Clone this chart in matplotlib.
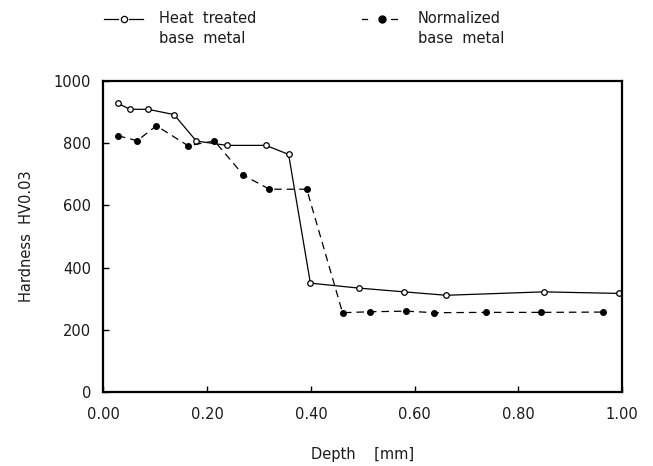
import matplotlib

matplotlib.use("Agg")
import matplotlib.pyplot as plt  # noqa: E402
from matplotlib.lines import Line2D  # noqa: E402

# ---- data ------------------------------------------------------------------
depth_heat = [0.028, 0.051, 0.086, 0.136, 0.179, 0.238, 0.313, 0.357,
              0.399, 0.493, 0.580, 0.661, 0.849, 0.994]
hard_heat = [928, 909, 909, 892, 807, 793, 793, 764,
             350, 334, 322, 311, 322, 317]

depth_norm = [0.028, 0.065, 0.102, 0.163, 0.214, 0.270, 0.320, 0.392,
              0.461, 0.514, 0.583, 0.638, 0.737, 0.843, 0.963]
hard_norm = [824, 808, 856, 792, 807, 697, 652, 652,
             255, 258, 260, 255, 256, 256, 257]

x_ticks = [0.0, 0.2, 0.4, 0.6, 0.8, 1.0]
x_labels = ["0.00", "0.20", "0.40", "0.60", "0.80", "1.00"]
y_ticks = [0, 200, 400, 600, 800, 1000]

plt.rcParams["font.family"] = ["DejaVu Sans"]
FS = 10.5
TXT = "#1a1a1a"
W, H = 653, 466

fig = plt.figure(figsize=(W / 100, H / 100), dpi=100)
ax = fig.add_axes([103.5 / W, 1 - 392 / H, (622 - 103.5) / W, (392 - 81) / H])

ax.plot(depth_heat, hard_heat, "-", color="black", lw=0.9,
        marker="o", ms=4, mfc="white", mec="black", mew=0.9)
ax.plot(depth_norm, hard_norm, color="black", lw=0.9, dashes=(6, 4),
        marker="o", ms=4, mfc="black", mec="black")

ax.set_xlim(0, 1.0)
ax.set_ylim(0, 1000)
ax.set_xticks(x_ticks)
ax.set_xticklabels(x_labels)
ax.set_yticks(y_ticks)
ax.tick_params(direction="in", length=4, width=1, labelsize=FS,
               colors="black", labelcolor=TXT)
ax.tick_params(axis="x", pad=11)
ax.tick_params(axis="y", pad=9)
for s in ax.spines.values():
    s.set_linewidth(1.6)

ax.set_xlabel("Depth    [mm]", fontsize=FS, labelpad=18, color=TXT)
ax.set_ylabel("Hardness  HV0.03", fontsize=FS, labelpad=14, color=TXT)


# ---- legend drawn at the top of the figure ---------------------------------
def fx(px):
    return px / W


def fy(py):
    return 1 - py / H


# heat treated: "—o—"
fig.add_artist(Line2D([fx(104), fx(118)], [fy(19), fy(19)], color="black", lw=0.9,
                      transform=fig.transFigure))
fig.add_artist(Line2D([fx(129), fx(143)], [fy(19), fy(19)], color="black", lw=0.9,
                      transform=fig.transFigure))
fig.add_artist(Line2D([fx(123.5)], [fy(19)], marker="o", ms=4.5, mfc="white",
                      mec="black", mew=0.9, transform=fig.transFigure))
fig.text(fx(159), fy(11), "Heat  treated\nbase  metal", fontsize=FS, color=TXT,
         va="top", ha="left", linespacing=1.45, transform=fig.transFigure)

# normalized: "- ● -"
fig.add_artist(Line2D([fx(362), fx(367)], [fy(19), fy(19)], color="black", lw=0.9,
                      transform=fig.transFigure))
fig.add_artist(Line2D([fx(391), fx(397)], [fy(19), fy(19)], color="black", lw=0.9,
                      transform=fig.transFigure))
fig.add_artist(Line2D([fx(382)], [fy(19)], marker="o", ms=5, mfc="black",
                      mec="black", transform=fig.transFigure))
fig.text(fx(418), fy(11), "Normalized\nbase  metal", fontsize=FS, color=TXT,
         va="top", ha="left", linespacing=1.45, transform=fig.transFigure)

fig.savefig("out.png", dpi=100)
